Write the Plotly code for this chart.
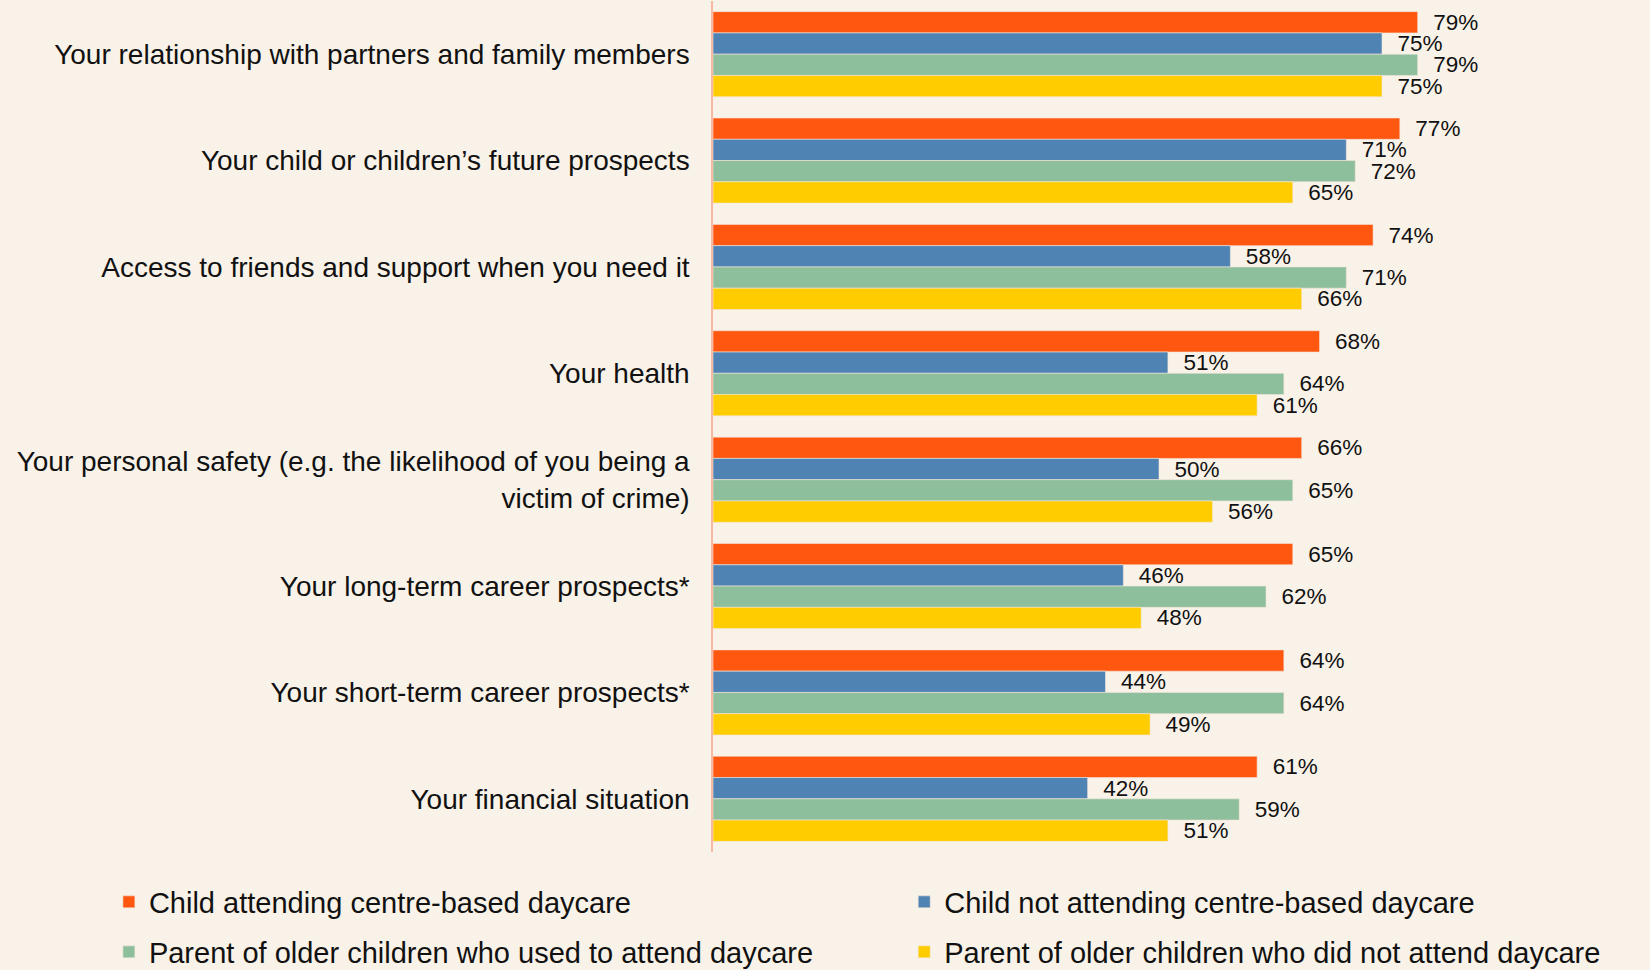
import plotly.graph_objects as go

categories = [
    "Your relationship with partners and family members",
    "Your child or children’s future prospects",
    "Access to friends and support when you need it",
    "Your health",
    "Your personal safety (e.g. the likelihood of you being a<br>victim of crime)",
    "Your long-term career prospects*",
    "Your short-term career prospects*",
    "Your financial situation",
]
series_names = [
    "Child attending centre-based daycare",
    "Child not attending centre-based daycare",
    "Parent of older children who used to attend daycare",
    "Parent of older children who did not attend daycare",
]
child_daycare = [79, 77, 74, 68, 66, 65, 64, 61]
child_no_daycare = [75, 71, 58, 51, 50, 46, 44, 42]
older_used_daycare = [79, 72, 71, 64, 65, 62, 64, 59]
older_no_daycare = [75, 65, 66, 61, 56, 48, 49, 51]

values = [child_daycare, child_no_daycare, older_used_daycare, older_no_daycare]
colors = ["#FF5610", "#4E83B3", "#8EBF9D", "#FFCC00"]
legend_ids = ["legend", "legend2", "legend3", "legend4"]

BG = "#F9F2E8"
FONT = "Liberation Sans"

fig = go.Figure()
for name, vals, col, lg in zip(series_names, values, colors, legend_ids):
    fig.add_trace(go.Bar(
        y=categories, x=vals, name=name, orientation="h",
        marker=dict(color=col, line=dict(color="#F3E6DA", width=0.6)),
        text=[f"\u00a0\u00a0{v}%" for v in vals],
        textposition="outside", cliponaxis=False, constraintext="none",
        textfont=dict(family=FONT, size=22.5, color="#111111"),
        legend=lg,
    ))

legend_font = dict(family=FONT, size=29, color="#111111")
col_x = [0.066, 0.548, 0.066, 0.548]
row_y = [1 - 902 / 970, 1 - 902 / 970, 1 - 952 / 970, 1 - 952 / 970]
legend_layouts = {}
for lg, lx, ly in zip(legend_ids, col_x, row_y):
    legend_layouts[lg] = dict(
        orientation="h", xref="container", yref="container",
        x=lx, y=ly, xanchor="left", yanchor="middle",
        bgcolor="rgba(0,0,0,0)", font=legend_font,
    )

fig.update_layout(
    width=1650, height=970,
    paper_bgcolor=BG, plot_bgcolor=BG,
    font=dict(family=FONT, size=28, color="#111111"),
    barmode="group", bargap=0.2, bargroupgap=0,
    margin=dict(l=713, r=45, t=1, b=118, autoexpand=False),
    xaxis=dict(range=[0, 100], visible=False, showgrid=False, zeroline=False),
    yaxis=dict(autorange="reversed", showgrid=False, zeroline=False,
               showline=True, linecolor="#F8B9A2", linewidth=1.5,
               ticks="", ticklabelstandoff=16,
               tickfont=dict(family=FONT, size=28, color="#111111")),
    showlegend=True,
    **legend_layouts,
)

fig.write_html(
    "out.html",
    config={"displayModeBar": False},
    post_script="document.body.style.margin='0';document.body.style.background='%s';" % BG,
)
